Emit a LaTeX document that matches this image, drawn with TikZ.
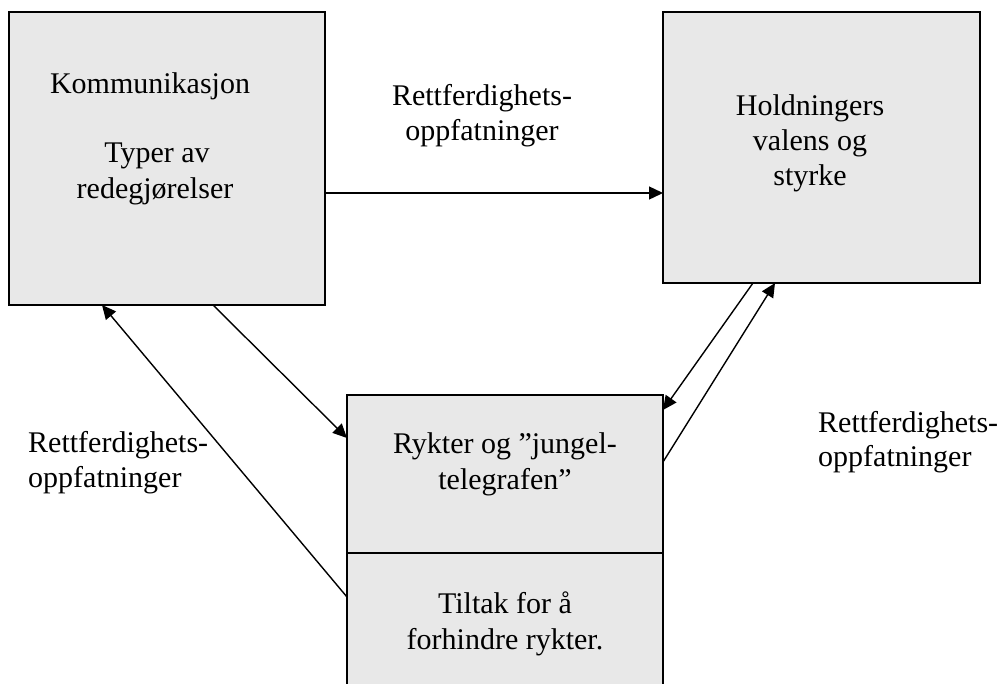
\documentclass[tikz,border=0pt]{standalone}
\usepackage{fontspec}
\setmainfont{Liberation Serif}
\usetikzlibrary{calc,arrows.meta}
\definecolor{boxgray}{HTML}{E8E8E8}
\tikzset{
  box/.style={draw=black, line width=1.5pt, fill=boxgray, inner sep=0pt, outer sep=0pt},
  txt/.style={font=\fontsize{30}{35}\selectfont, inner sep=0pt, anchor=base},
  ltxt/.style={txt, anchor=base west},
  conn/.style={line width=1.4pt, -{Triangle[length=14pt,width=13pt]}}
}
\begin{document}
\begin{tikzpicture}[x=1pt,y=-1pt]
\useasboundingbox (0,0) rectangle (999,683);
% boxes
\node[box, anchor=north west, minimum width=316pt, minimum height=293pt] (A) at (9,12) {};
\node[box, anchor=north west, minimum width=317pt, minimum height=271pt] (B) at (663,12) {};
\node[box, anchor=north west, minimum width=316pt, minimum height=158pt] (R) at (347,395) {};
\node[box, anchor=north west, minimum width=316pt, minimum height=160pt] (T) at (347,553) {};
% texts in boxes
\node[txt] (a1) at (150,93) {Kommunikasjon};
\node[txt] (a2) at (157,162) {Typer av};
\node[txt] (a3) at (155,198) {redegjørelser};
\node[txt] (b1) at (810,115) {Holdningers};
\node[txt] (b2) at (810,150) {valens og};
\node[txt] (b3) at (810,185) {styrke};
\node[txt] (r1) at (505,453) {Rykter og ”jungel-};
\node[txt] (r2) at (505,489) {telegrafen”};
\node[txt] (t1) at (505,613) {Tiltak for å};
\node[txt] (t2) at (505,649) {forhindre rykter.};
% free labels
\node[txt] (m1) at (482,105) {Rettferdighets-};
\node[txt] (m2) at (482,140) {oppfatninger};
\node[ltxt] (s1) at (818,432) {Rettferdighets-};
\node[ltxt] (s2) at (818,466) {oppfatninger};
\node[ltxt] (l1) at (28,452) {Rettferdighets-};
\node[ltxt] (l2) at (28,487) {oppfatninger};
% connectors
\coordinate (a_e) at ($(A.north east)+(0,181)$);
\coordinate (b_w) at ($(B.north west)+(0,181)$);
\coordinate (a_s1) at ($(A.south west)+(204,0)$);
\coordinate (r_w) at ($(R.north west)+(0,43)$);
\coordinate (t_w) at ($(T.north west)+(0,44)$);
\coordinate (a_s2) at ($(A.south west)+(93,0)$);
\coordinate (b_s1) at ($(B.south west)+(90,0)$);
\coordinate (r_e1) at ($(R.north east)+(0,15)$);
\coordinate (r_e2) at ($(R.north east)+(0,67)$);
\coordinate (b_s2) at ($(B.south west)+(112,0)$);
\draw[conn] (a_e) -- (b_w);
\draw[conn] (a_s1) -- (r_w);
\draw[conn] (t_w) -- (a_s2);
\draw[conn] (b_s1) -- (r_e1);
\draw[conn] (r_e2) -- (b_s2);
\end{tikzpicture}
\end{document}
